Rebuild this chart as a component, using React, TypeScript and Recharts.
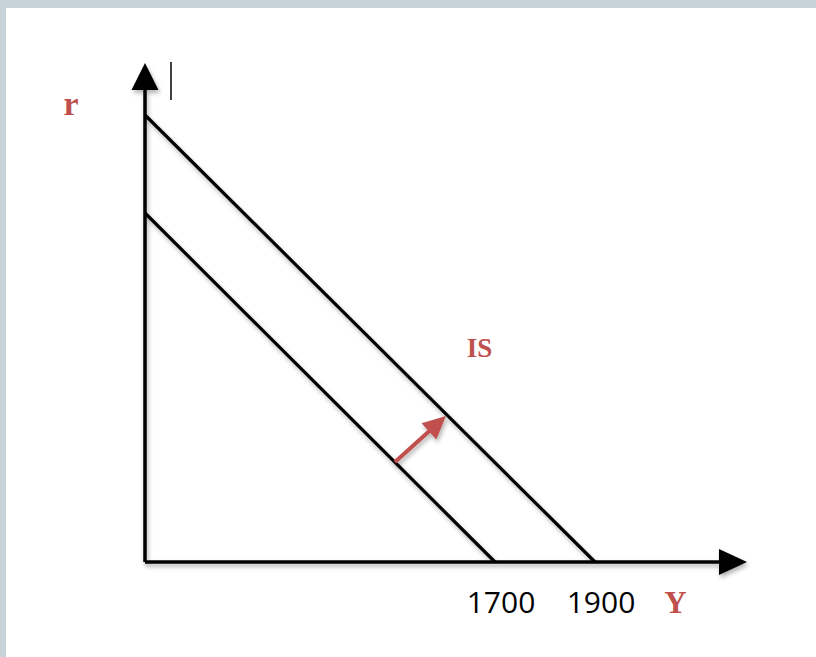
import React from "react";
import { LineChart, Line, XAxis, YAxis, ReferenceLine, ReferenceDot } from "recharts";

// IS curves (output Y vs interest rate r)
const isOldY = [1000, 1700];
const isOldR = [698, 0];
const isNewY = [1000, 1900];
const isNewR = [894, 0];

// shift arrow between the two curves
const shiftY = [1500, 1602];
const shiftR = [200, 292];

// axis extents (origin -> arrow tip)
const axisY = [1000, 2204];
const axisR = [0, 998];

const yTicks = [1700, 1900];
const yDomain = [1000, 2210];
const rDomain = [0, 1000];

const RED = "#c0504d";
const toRows = (ys: number[], rs: number[]) => ys.map((y, i) => ({ Y: y, r: rs[i] }));
const isOld = toRows(isOldY, isOldR);
const isNew = toRows(isNewY, isNewR);

const arrow = (color: string, w: number, len: number, spread: number) => (p: any) => {
  const { x1, y1, x2, y2 } = p;
  const a = Math.atan2(y2 - y1, x2 - x1);
  const c = Math.cos(a), s = Math.sin(a);
  const bx = x2 - len * c, by = y2 - len * s;
  const ox = (-s * spread) / 2, oy = (c * spread) / 2;
  return (
    <g filter="url(#soft)">
      <line x1={x1} y1={y1} x2={bx + c} y2={by + s} stroke={color} strokeWidth={w} />
      <polygon points={`${x2},${y2} ${bx + ox},${by + oy} ${bx - ox},${by - oy}`} fill={color} />
    </g>
  );
};

const serifRed = { fill: RED, fontWeight: "bold", fontFamily: "Liberation Serif" };

export default function App() {
  return (
    <div style={{ position: "absolute", left: 0, top: 0, width: 816, height: 657, background: "#c8d2d9" }}>
      <div style={{ position: "absolute", left: 6, top: 8, width: 810, height: 649, background: "#fff" }} />
      <div style={{ position: "absolute", left: 0, top: 0 }}>
        <LineChart width={816} height={657} margin={{ top: 62, right: 66, left: 145, bottom: 55 }}>
          <defs>
            <filter id="soft" x="-20%" y="-20%" width="140%" height="140%">
              <feDropShadow dx="1.5" dy="3" stdDeviation="2" floodColor="#000" floodOpacity="0.3" />
            </filter>
          </defs>
          <XAxis
            type="number"
            dataKey="Y"
            domain={yDomain}
            allowDataOverflow
            ticks={yTicks}
            height={40}
            axisLine={false}
            tickLine={false}
            tickSize={0}
            tickMargin={30}
            tick={{ fill: "#000", fontSize: 30, fontFamily: "Open Sans", dx: 6 }}
          />
          <YAxis type="number" dataKey="r" domain={rDomain} allowDataOverflow hide />
          <Line data={isOld} dataKey="r" type="linear" stroke="#000" strokeWidth={3.2} dot={false}
            filter="url(#soft)" isAnimationActive={false} />
          <Line data={isNew} dataKey="r" type="linear" stroke="#000" strokeWidth={3.2} dot={false}
            filter="url(#soft)" isAnimationActive={false} />
          <ReferenceLine ifOverflow="visible"
            segment={[{ x: axisY[0], y: axisR[0] }, { x: axisY[1], y: axisR[0] }]}
            shape={arrow("#000", 3.5, 28, 26)} />
          <ReferenceLine ifOverflow="visible"
            segment={[{ x: axisY[0], y: axisR[0] }, { x: axisY[0], y: axisR[1] }]}
            shape={arrow("#000", 3.5, 27, 27)} />
          <ReferenceLine ifOverflow="visible"
            segment={[{ x: shiftY[0], y: shiftR[0] }, { x: shiftY[1], y: shiftR[1] }]}
            shape={arrow(RED, 4, 23, 22)} />
          <ReferenceLine ifOverflow="visible" stroke="#000" strokeWidth={1.5}
            segment={[{ x: 1052, y: 1000 }, { x: 1052, y: 924 }]} />
          <ReferenceDot x={1669} y={429} r={0} ifOverflow="visible" fill="none" stroke="none"
            label={{ value: "IS", position: "center", fontSize: 27, ...serifRed }} />
          <ReferenceDot x={852} y={918} r={0} ifOverflow="visible" fill="none" stroke="none"
            label={{ value: "r", position: "center", fontSize: 34, ...serifRed }} />
          <ReferenceDot x={2061} y={-79} r={0} ifOverflow="visible" fill="none" stroke="none"
            label={{ value: "Y", position: "center", fontSize: 31, ...serifRed }} />
        </LineChart>
      </div>
    </div>
  );
}
